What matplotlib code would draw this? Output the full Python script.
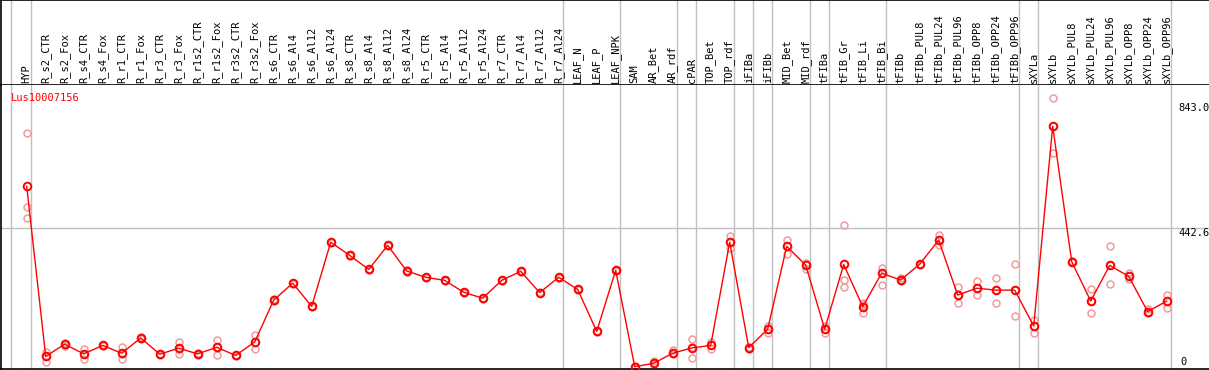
import numpy as np
import matplotlib.pyplot as plt

# sample names (one column each)
samples = ["HYP", "R_s2_CTR", "R_s2_Fox", "R_s4_CTR", "R_s4_Fox", "R_r1_CTR", "R_r1_Fox",
           "R_r3_CTR", "R_r3_Fox", "R_r1s2_CTR", "R_r1s2_Fox", "R_r3s2_CTR", "R_r3s2_Fox",
           "R_s6_CTR", "R_s6_Al4", "R_s6_Al12", "R_s6_Al24", "R_s8_CTR", "R_s8_Al4",
           "R_s8_Al12", "R_s8_Al24", "R_r5_CTR", "R_r5_Al4", "R_r5_Al12", "R_r5_Al24",
           "R_r7_CTR", "R_r7_Al4", "R_r7_Al12", "R_r7_Al24", "LEAF_N", "LEAF_P", "LEAF_NPK",
           "SAM", "AR_Bet", "AR_rdf", "cPAR", "TOP_Bet", "TOP_rdf", "iFIBa", "iFIBb",
           "MID_Bet", "MID_rdf", "tFIBa", "tFIB_Gr", "tFIB_Li", "tFIB_Bi", "tFIBb",
           "tFIBb_PUL8", "tFIBb_PUL24", "tFIBb_PUL96", "tFIBb_OPP8", "tFIBb_OPP24",
           "tFIBb_OPP96", "sXYLa", "sXYLb", "sXYLb_PUL8", "sXYLb_PUL24", "sXYLb_PUL96",
           "sXYLb_OPP8", "sXYLb_OPP24", "sXYLb_OPP96"]

# mean expression per sample
means = [577, 33, 72, 41, 68, 43, 92, 40, 59, 41, 62, 36, 79,
         213, 267, 193, 398, 356, 311, 388, 306, 286, 276, 238, 219,
         276, 305, 237, 286, 247, 113, 308,
         0, 11, 43, 60, 68, 398, 61, 120, 385, 325,
         120, 327, 192, 299, 277, 328, 405, 229, 251, 245, 245,
         130, 769, 336, 210, 324, 289, 176, 210]

# replicate values per sample
reps = [[746, 510, 475], [48, 16, 35], [75, 66, 70], [56, 26, 41], [70, 66, 68],
        [64, 26, 40], [95, 90, 92], [42, 38, 40], [79, 40, 58], [43, 39, 41],
        [85, 38, 62], [38, 34, 36], [100, 56, 80],
        [215, 211, 213], [269, 265, 267], [195, 191, 193], [400, 396, 398],
        [358, 354, 356], [313, 309, 311], [390, 386, 388], [308, 304, 306],
        [288, 284, 286], [278, 274, 276], [240, 236, 238], [221, 217, 219],
        [278, 274, 276], [307, 303, 305], [239, 235, 237], [288, 284, 286],
        [249, 245, 247], [115, 111, 113], [310, 306, 308],
        [2, -2, 0], [18, 8, 11], [53, 40, 43], [89, 27, 62], [79, 58, 68],
        [418, 380, 398], [57, 64, 61], [130, 109, 120], [405, 361, 385],
        [333, 313, 328],
        [130, 109, 120], [452, 277, 254], [205, 171, 196], [315, 261, 299],
        [285, 275, 277], [330, 326, 328], [421, 390, 405], [255, 203, 229],
        [274, 229, 251], [283, 203, 245], [328, 161, 245],
        [149, 107, 130], [858, 682, 769], [338, 334, 336], [247, 171, 210],
        [386, 264, 324], [299, 280, 289], [184, 171, 176], [229, 189, 210]]

# group separators: after these column indices
seps = [-1, 0, 28, 31, 34, 35, 37, 38, 39, 41, 42, 45, 52, 53, 60]

gene = "Lus10007156"
mono = "DejaVu Sans Mono"

W, H = 1209, 370
fig = plt.figure(figsize=(W / 100, H / 100), dpi=100)
fig.patch.set_facecolor("white")

x0, dx = 26.7, 19.0
xl = ((1 - x0) / dx, (W - x0) / dx)
y0, sy = 366.7, 0.3127
ylo, yhi = (y0 - 369) / sy, (y0 - 85) / sy

head = fig.add_axes([1 / W, (H - 85) / H, 1 - 1 / W, 85 / H])
ax = fig.add_axes([1 / W, 1 / H, 1 - 1 / W, 284 / H])

for a in (head, ax):
    a.set_xlim(*xl)
    a.set_xticks([])
    a.set_yticks([])
    a.spines["right"].set_visible(False)
    for s in ("left", "top", "bottom"):
        a.spines[s].set_linewidth(1.2)
        a.spines[s].set_color("black")
    for s in seps:
        a.axvline(s + 0.2, color="#c0c0c0", lw=1.0, zorder=0)

head.set_ylim(0, 1)
ax.spines["top"].set_visible(False)
for i, name in enumerate(samples):
    head.text(i, 0.02, name, rotation=90, ha="center", va="bottom",
              family=mono, fontsize=7.5)

ax.set_ylim(ylo, yhi)
ax.axhline(442.6, color="#c0c0c0", lw=1.0, zorder=0)

xs = np.arange(len(samples))
for i, r in enumerate(reps):
    ax.plot([i] * len(r), r, "o", ms=5, mfc="none", mec="#f09a9a", mew=1.1, zorder=2)
ax.plot(xs, means, "-", color="red", lw=1.0, zorder=3)
ax.plot(xs, means, "o", ms=5.5, mfc="none", mec="red", mew=1.4, zorder=4)

ax.text(-0.85, 858, gene, color="red", family=mono, fontsize=7.5, va="center", ha="left")
xlab = (1178 - x0) / dx
ax.text(xlab, 843.0, "843.0", family=mono, fontsize=7.5, va="top", ha="left")
ax.text(xlab, 442.6, "442.6", family=mono, fontsize=7.5, va="top", ha="left")
ax.text(xlab + 0.1, 0, "0", family=mono, fontsize=7.5, va="bottom", ha="left")

fig.savefig("out.png", dpi=100, facecolor="white")
